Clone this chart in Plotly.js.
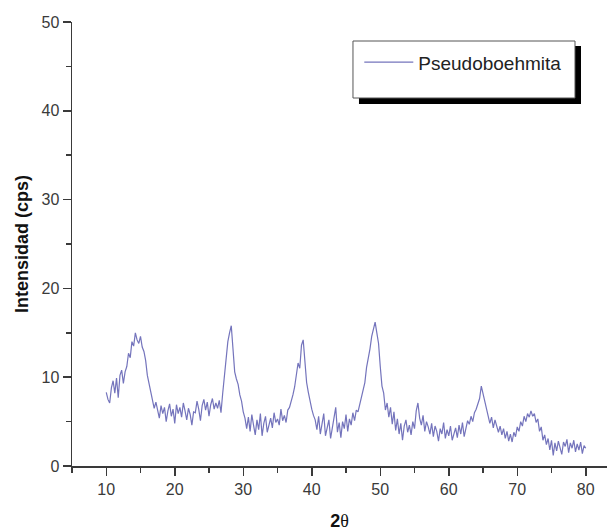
<!DOCTYPE html>
<html>
<head>
<meta charset="utf-8">
<script src="https://cdn.plot.ly/plotly-3.0.1.min.js"></script>
<style>html,body{margin:0;padding:0;background:#fff;}#chart{width:613px;height:531px;}</style>
</head>
<body>
<div id="chart"></div>
<script>
// 2-theta angles (degrees)
var twoTheta = [
  10,10.25,10.5,10.75, 11,11.25,11.5,11.75, 12,12.25,12.5,12.75, 13,13.25,13.5,13.75,
  14,14.25,14.5,14.75, 15,15.25,15.5,15.75, 16,16.25,16.5,16.75, 17,17.25,17.5,17.75,
  18,18.25,18.5,18.75, 19,19.25,19.5,19.75, 20,20.25,20.5,20.75, 21,21.25,21.5,21.75,
  22,22.25,22.5,22.75, 23,23.25,23.5,23.75, 24,24.25,24.5,24.75, 25,25.25,25.5,25.75,
  26,26.25,26.5,26.75, 27,27.25,27.5,27.75, 28,28.25,28.5,28.75, 29,29.25,29.5,29.75,
  30,30.25,30.5,30.75, 31,31.25,31.5,31.75, 32,32.25,32.5,32.75, 33,33.25,33.5,33.75,
  34,34.25,34.5,34.75, 35,35.25,35.5,35.75, 36,36.25,36.5,36.75, 37,37.25,37.5,37.75,
  38,38.25,38.5,38.75, 39,39.25,39.5,39.75, 40,40.25,40.5,40.75, 41,41.25,41.5,41.75,
  42,42.25,42.5,42.75, 43,43.25,43.5,43.75, 44,44.25,44.5,44.75, 45,45.25,45.5,45.75,
  46,46.25,46.5,46.75, 47,47.25,47.5,47.75, 48,48.25,48.5,48.75, 49,49.25,49.5,49.75,
  50,50.25,50.5,50.75, 51,51.25,51.5,51.75, 52,52.25,52.5,52.75, 53,53.25,53.5,53.75,
  54,54.25,54.5,54.75, 55,55.25,55.5,55.75, 56,56.25,56.5,56.75, 57,57.25,57.5,57.75,
  58,58.25,58.5,58.75, 59,59.25,59.5,59.75, 60,60.25,60.5,60.75, 61,61.25,61.5,61.75,
  62,62.25,62.5,62.75, 63,63.25,63.5,63.75, 64,64.25,64.5,64.75, 65,65.25,65.5,65.75,
  66,66.25,66.5,66.75, 67,67.25,67.5,67.75, 68,68.25,68.5,68.75, 69,69.25,69.5,69.75,
  70,70.25,70.5,70.75, 71,71.25,71.5,71.75, 72,72.25,72.5,72.75, 73,73.25,73.5,73.75,
  74,74.25,74.5,74.75, 75,75.25,75.5,75.75, 76,76.25,76.5,76.75, 77,77.25,77.5,77.75,
  78,78.25,78.5,78.75, 79,79.25,79.5,79.75, 80
];
// Intensity (cps)
var intensity = [
  8.3,7.5,7.1,8.8, 9.6,8.2,9.9,7.7, 10.2,10.8,9.3,10.6, 11.2,12.7,12.2,14.0,
  13.5,15.0,14.2,13.8, 14.6,13.4,12.9,11.9, 10.2,9.3,8.1,7.4, 6.5,7.2,6.1,5.4,
  6.8,5.9,6.6,5.0, 6.2,7.0,5.6,6.4, 4.8,6.9,5.9,6.6, 5.5,7.1,6.2,5.2,
  6.5,5.8,4.6,6.1, 6.0,7.3,6.4,5.1, 6.8,7.5,6.3,7.2, 5.6,6.9,7.6,6.4,
  7.1,6.5,7.4,6.0, 8.2,10.3,12.7,14.0, 15.0,15.8,13.2,10.6, 9.8,9.2,8.0,7.3,
  6.1,5.4,4.2,5.5, 3.9,5.8,4.6,3.5, 5.2,4.1,5.9,3.4, 4.8,5.6,3.8,4.5,
  5.4,4.3,6.0,4.9, 5.3,4.6,6.4,5.1, 5.7,4.9,6.3,6.6, 7.2,8.0,8.9,10.5,
  11.6,11.0,13.6,14.2, 11.9,9.4,8.3,7.1, 6.4,5.7,5.2,4.1, 5.6,3.6,4.8,5.9,
  3.4,4.5,5.2,3.1, 4.4,5.5,6.6,3.8, 4.9,3.2,5.0,4.2, 5.8,3.9,5.3,4.6,
  6.0,5.1,6.3,6.1, 7.0,7.6,8.6,9.4, 11.1,12.0,13.2,14.6, 15.3,16.2,15.0,13.8,
  11.2,9.0,8.2,6.3, 7.1,5.5,6.6,4.7, 6.1,4.0,5.3,3.6, 4.8,2.9,4.5,5.2,
  3.8,4.6,3.5,5.0, 4.2,6.2,7.1,5.4, 4.6,5.7,3.9,5.0, 4.4,3.6,4.8,3.3,
  4.5,3.9,2.8,4.2, 3.6,4.9,3.1,4.1, 3.4,4.5,2.9,3.8, 4.3,3.2,4.6,3.6,
  4.9,3.3,4.4,5.1, 4.7,5.6,5.0,6.0, 6.4,7.1,7.6,9.0, 8.1,7.4,6.5,5.6,
  4.8,5.5,4.3,5.2, 4.6,3.8,4.5,3.5, 4.2,3.1,3.9,2.8, 3.6,2.7,3.8,3.3,
  4.4,3.9,5.0,4.5, 5.6,5.0,5.9,5.5, 6.2,5.6,5.9,4.9, 5.3,3.9,4.4,2.9,
  3.5,2.4,3.1,1.8, 2.9,1.2,2.6,1.7, 2.8,2.1,1.3,2.7, 2.2,3.0,1.5,2.6,
  2.0,2.9,1.6,2.5, 1.8,2.7,1.4,2.3, 2.0
];
var seriesName = 'Pseudoboehmita';
var xTickVals = [10, 20, 30, 40, 50, 60, 70, 80];
var yTickVals = [0, 10, 20, 30, 40, 50];

var axisColor = '#3a3a3a';
var font = 'Liberation Sans, Arial, sans-serif';

var trace = {
  x: twoTheta,
  y: intensity,
  type: 'scatter',
  mode: 'lines',
  name: seriesName,
  line: {color: '#7474bc', width: 1.2},
  showlegend: true
};

var layout = {
  width: 613,
  height: 531,
  margin: {l: 72, r: 6, t: 22, b: 65, pad: 0},
  paper_bgcolor: '#ffffff',
  plot_bgcolor: '#ffffff',
  font: {family: font, color: '#333333', size: 16},
  showlegend: true,
  legend: {
    x: 0.537, y: 0.952, xanchor: 'left', yanchor: 'top',
    bgcolor: 'rgba(0,0,0,0)', borderwidth: 0,
    font: {family: font, size: 19, color: '#222222'},
    itemwidth: 49
  },
  xaxis: {
    range: [5, 83.1],
    tickvals: xTickVals,
    ticktext: xTickVals.map(String),
    showgrid: false, zeroline: false,
    showline: true, linecolor: axisColor, linewidth: 1.5,
    ticks: 'outside', ticklen: 8, tickwidth: 1.5, tickcolor: axisColor,
    minor: {dtick: 5, tick0: 5, ticks: 'outside', ticklen: 5, tickwidth: 1.5, tickcolor: axisColor, showgrid: false},
    tickfont: {family: font, size: 16, color: '#3a3a3a'},
    title: {text: '<b>2</b><span style="font-family:\'Liberation Serif\', serif">θ</span>', font: {family: font, size: 18, color: '#111111'}, standoff: 18}
  },
  yaxis: {
    range: [0, 50],
    tickvals: yTickVals,
    ticktext: yTickVals.map(String),
    showgrid: false, zeroline: false,
    showline: true, linecolor: axisColor, linewidth: 1.5,
    ticks: 'outside', ticklen: 8, tickwidth: 1.5, tickcolor: axisColor,
    minor: {dtick: 5, tick0: 5, ticks: 'outside', ticklen: 5, tickwidth: 1.5, tickcolor: axisColor, showgrid: false},
    tickfont: {family: font, size: 16, color: '#3a3a3a'},
    title: {text: '<b>Intensidad (cps)</b>', font: {family: font, size: 18, color: '#111111'}, standoff: 8}
  },
  shapes: [
    {type: 'rect', xref: 'paper', yref: 'paper', x0: 0.5364, x1: 0.9514, y0: 0.8153, y1: 0.9459,
     fillcolor: '#000000', line: {width: 0}, layer: 'above'},
    {type: 'rect', xref: 'paper', yref: 'paper', x0: 0.5252, x1: 0.9402, y0: 0.8288, y1: 0.9572,
     fillcolor: '#ffffff', line: {color: '#555555', width: 1}, layer: 'above'}
  ]
};

Plotly.newPlot('chart', [trace], layout, {displayModeBar: false, staticPlot: true});
</script>
</body>
</html>
